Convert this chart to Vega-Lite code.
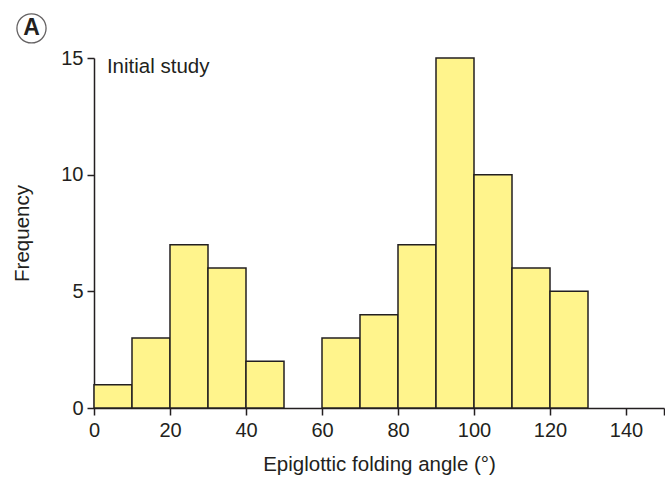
{
  "$schema": "https://vega.github.io/schema/vega-lite/v6.json",
  "autosize": "none",
  "width": 570,
  "height": 350,
  "padding": {"left": 94, "top": 58, "right": 1, "bottom": 70},
  "background": "white",
  "config": {
    "view": {"stroke": null},
    "font": "Liberation Sans",
    "axis": {"grid": false, "domainColor": "#231F20", "tickColor": "#231F20", "labelColor": "#231F20", "titleColor": "#231F20", "labelFont": "Liberation Sans", "titleFont": "Liberation Sans", "labelFontSize": 20, "titleFontSize": 20.5, "titleFontWeight": "normal", "domainWidth": 1.5, "tickWidth": 1.5, "tickSize": 7, "labelFlush": false}
  },
  "datasets": {
    "bins": [
      {"bin_start": 0, "bin_end": 10, "count": 1},
      {"bin_start": 10, "bin_end": 20, "count": 3},
      {"bin_start": 20, "bin_end": 30, "count": 7},
      {"bin_start": 30, "bin_end": 40, "count": 6},
      {"bin_start": 40, "bin_end": 50, "count": 2},
      {"bin_start": 60, "bin_end": 70, "count": 3},
      {"bin_start": 70, "bin_end": 80, "count": 4},
      {"bin_start": 80, "bin_end": 90, "count": 7},
      {"bin_start": 90, "bin_end": 100, "count": 15},
      {"bin_start": 100, "bin_end": 110, "count": 10},
      {"bin_start": 110, "bin_end": 120, "count": 6},
      {"bin_start": 120, "bin_end": 130, "count": 5}
    ],
    "notes": [
      {"x": 3.4, "y": 14.6, "label": "Initial study"}
    ],
    "panel": [
      {"x": -16.45, "y": 16.27, "label": "A"}
    ]
  },
  "layer": [
    {
      "data": {"name": "bins"},
      "mark": {"type": "bar", "fill": "#FFF48C", "stroke": "#231F20", "strokeWidth": 1.5},
      "encoding": {
        "x": {"field": "bin_start", "type": "quantitative", "scale": {"domain": [0, 150], "nice": false, "zero": false},
          "axis": {"values": [0, 20, 40, 60, 80, 100, 120, 140, 150], "labelExpr": "datum.value == 150 ? '' : datum.label", "title": "Epiglottic folding angle (°)", "labelPadding": 5, "titlePadding": 14}},
        "x2": {"field": "bin_end"},
        "y": {"field": "count", "type": "quantitative", "scale": {"domain": [0, 15], "nice": false},
          "axis": {"values": [0, 5, 10, 15], "title": "Frequency", "labelPadding": 4, "titlePadding": 28}},
        "y2": {"datum": 0}
      }
    },
    {
      "data": {"name": "notes"},
      "mark": {"type": "text", "align": "left", "baseline": "middle", "fontSize": 20.5, "color": "#231F20", "font": "Liberation Sans"},
      "encoding": {
        "x": {"field": "x", "type": "quantitative"},
        "y": {"field": "y", "type": "quantitative"},
        "text": {"field": "label"}
      }
    },
    {
      "data": {"name": "panel"},
      "mark": {"type": "point", "shape": "circle", "size": 850, "filled": false, "stroke": "#231F20", "strokeWidth": 1.3, "clip": false},
      "encoding": {
        "x": {"field": "x", "type": "quantitative"},
        "y": {"field": "y", "type": "quantitative"}
      }
    },
    {
      "data": {"name": "panel"},
      "mark": {"type": "text", "align": "center", "baseline": "middle", "fontSize": 23, "fontWeight": "bold", "color": "#231F20", "font": "Liberation Sans", "clip": false},
      "encoding": {
        "x": {"field": "x", "type": "quantitative"},
        "y": {"field": "y", "type": "quantitative"},
        "text": {"field": "label"}
      }
    }
  ]
}
